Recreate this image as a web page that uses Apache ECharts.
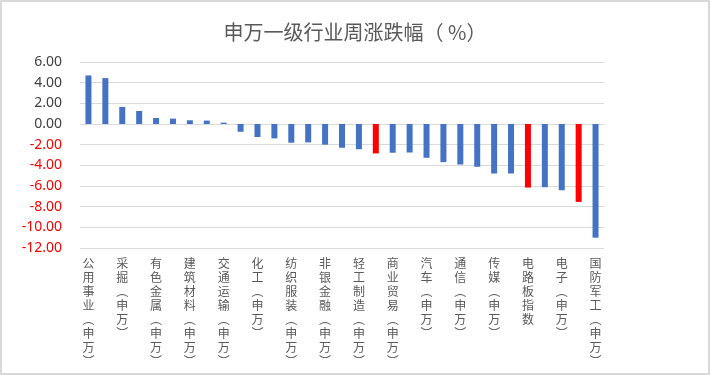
<!DOCTYPE html>
<html>
<head>
<meta charset="utf-8">
<script src="https://cdn.jsdelivr.net/npm/echarts@6/dist/echarts.min.js"></script>
<style>
html, body { margin: 0; padding: 0; background: #fff; }
#main { width: 710px; height: 375px; box-sizing: border-box; border: 2px solid #d9d9d9; }
</style>
</head>
<body>
<div id="main"></div>
<script>
var categories = ['公用事业(申万)', '休闲服务(申万)', '采掘(申万)', '农林牧渔(申万)', '有色金属(申万)', '钢铁(申万)',
    '建筑材料(申万)', '综合(申万)', '交通运输(申万)', '房地产(申万)', '化工(申万)', '建筑装饰(申万)',
    '纺织服装(申万)', '银行(申万)', '非银金融(申万)', '食品饮料(申万)', '轻工制造(申万)', '沪深300',
    '商业贸易(申万)', '医药生物(申万)', '汽车(申万)', '家用电器(申万)', '通信(申万)', '机械设备(申万)',
    '传媒(申万)', '电气设备(申万)', '电路板指数', '计算机(申万)', '电子(申万)', '元件指数', '国防军工(申万)'];
var values = [4.70, 4.44, 1.65, 1.26, 0.58, 0.52, 0.36, 0.33, 0.13, -0.75, -1.26, -1.39, -1.81, -1.78, -2.00, -2.30,
    -2.44, -2.85, -2.78, -2.76, -3.27, -3.69, -3.92, -4.14, -4.79, -4.79, -6.15, -6.12, -6.41, -7.54, -11.00];
var highlighted = ['沪深300', '电路板指数', '元件指数'];

var blue = '#4472C4';
var red = '#FF0000';

var chart = echarts.init(document.getElementById('main'));

var barData = values.map(function (v, i) {
    return {
        value: v,
        itemStyle: { color: highlighted.indexOf(categories[i]) >= 0 ? red : blue }
    };
});

// vertical text, one char per line, parentheses in their vertical forms
var vertical = function (name) {
    return name.split('').map(function (c) {
        if (c === '(') return '︵';
        if (c === ')') return '︶';
        return c;
    }).join('\n');
};

chart.setOption({
    title: {
        text: '申万一级行业周涨跌幅（ %）',
        left: 'center',
        top: 15,
        textStyle: { color: '#595959', fontSize: 20, fontWeight: 'normal', fontFamily: 'Noto Sans CJK SC' }
    },
    grid: { left: 78, right: 104, top: 60, bottom: 125 },
    xAxis: {
        type: 'category',
        data: categories,
        axisLine: { show: false, onZero: false },
        axisTick: { show: false },
        axisLabel: {
            interval: 1,
            margin: 8,
            color: '#595959',
            fontSize: 12,
            lineHeight: 14,
            verticalAlign: 'top',
            fontFamily: 'Noto Sans CJK SC',
            formatter: vertical
        }
    },
    yAxis: {
        type: 'value',
        min: -12,
        max: 6,
        interval: 2,
        axisLine: { show: false },
        axisTick: { show: false },
        splitLine: { lineStyle: { color: '#d9d9d9', width: 1 } },
        axisLabel: {
            margin: 18,
            fontSize: 14,
            fontFamily: 'Noto Sans',
            color: function (v) { return v < 0 ? red : '#404040'; },
            formatter: function (v) { return v.toFixed(2); }
        }
    },
    series: [{
        type: 'bar',
        data: barData,
        barWidth: 6,
        animation: false
    }]
});
</script>
</body>
</html>
